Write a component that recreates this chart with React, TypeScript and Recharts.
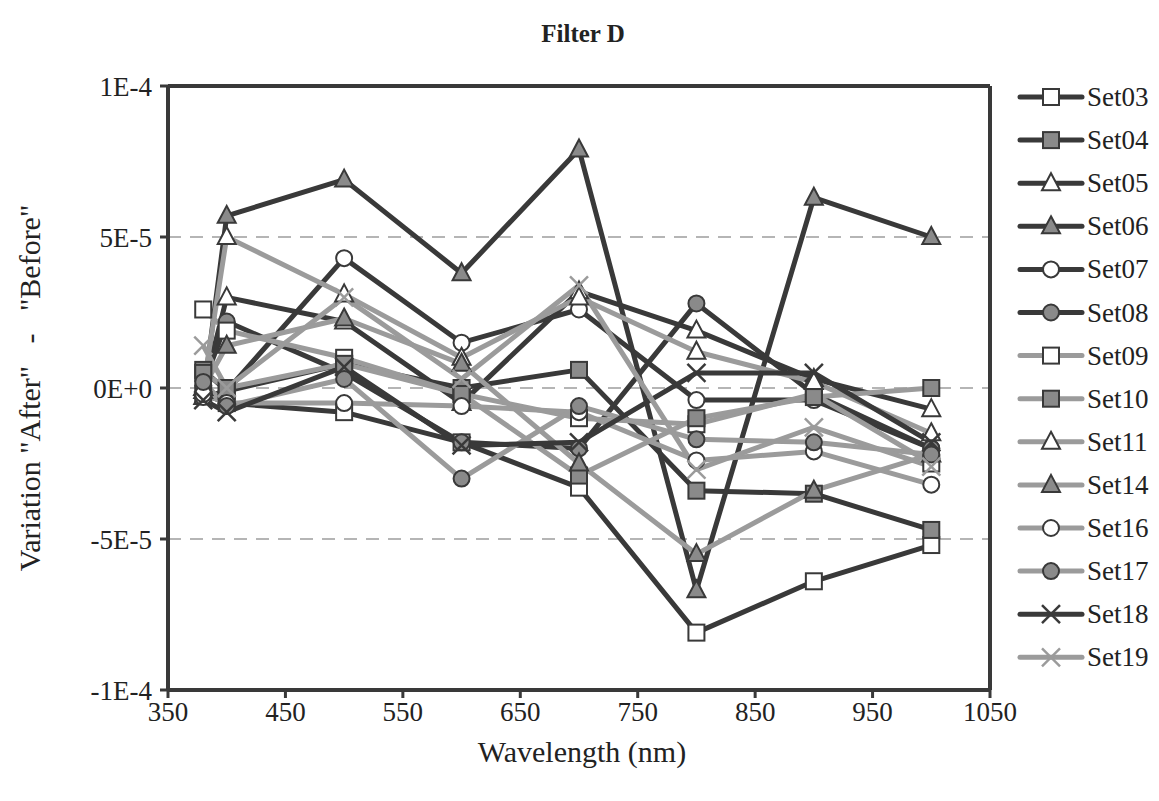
import { LineChart, Line, XAxis, YAxis, ReferenceLine, Label } from "recharts";

// wavelengths (nm) and values in units of 1E-6
const wavelengths = [380, 400, 500, 600, 700, 800, 900, 1000];

const set03 = [-2, -5, -8, -18, -33, -81, -64, -52];
const set04 = [6, -1, 8, 0, 6, -34, -35, -47];
const set05 = [-1, 30, 22, -5, 32, 19, 3, -7];
const set06 = [-3, 57, 69, 38, 79, -67, 63, 50];
const set07 = [-3, -1, 43, 15, 26, -4, -4, -20];
const set08 = [1, 22, 5, -18, -20, 28, -2, -20];
const set09 = [26, 19, 10, -2, -10, -12, -2, -25];
const set10 = [5, 0, 8, -2, -29, -10, -3, 0];
const set11 = [0, 50, 31, 10, 30, 12, 2, -15];
const set14 = [0, 14, 23, 8, -25, -55, -34, -22];
const set16 = [-2, -5, -5, -6, -8, -24, -21, -32];
const set17 = [2, -6, 3, -30, -6, -17, -18, -22];
const set18 = [-4, -8, 7, -19, -18, 5, 5, -18];
const set19 = [14, 0, 30, 3, 34, -27, -13, -26];

const xTicks = [350, 450, 550, 650, 750, 850, 950, 1050];
const yTicks = [-100, -50, 0, 50, 100];
const yTickLabels = ["-1E-4", "-5E-5", "0E+0", "5E-5", "1E-4"];
const gridValues = [-50, 0, 50];

const DARK = "#393939";
const GRAY = "#9b9b9b";
const FILL = "#8a8a8a";
const FONT = "'Liberation Serif', 'Times New Roman', serif";

type Shape = "square" | "triangle" | "circle" | "x";

const series: { name: string; values: number[]; dark: boolean; shape: Shape; filled: boolean }[] = [
  { name: "Set03", values: set03, dark: true, shape: "square", filled: false },
  { name: "Set04", values: set04, dark: true, shape: "square", filled: true },
  { name: "Set05", values: set05, dark: true, shape: "triangle", filled: false },
  { name: "Set06", values: set06, dark: true, shape: "triangle", filled: true },
  { name: "Set07", values: set07, dark: true, shape: "circle", filled: false },
  { name: "Set08", values: set08, dark: true, shape: "circle", filled: true },
  { name: "Set09", values: set09, dark: false, shape: "square", filled: false },
  { name: "Set10", values: set10, dark: false, shape: "square", filled: true },
  { name: "Set11", values: set11, dark: false, shape: "triangle", filled: false },
  { name: "Set14", values: set14, dark: false, shape: "triangle", filled: true },
  { name: "Set16", values: set16, dark: false, shape: "circle", filled: false },
  { name: "Set17", values: set17, dark: false, shape: "circle", filled: true },
  { name: "Set18", values: set18, dark: true, shape: "x", filled: false },
  { name: "Set19", values: set19, dark: false, shape: "x", filled: false },
];

const data = wavelengths.map((wl, i) => {
  const row: Record<string, number> = { wl };
  series.forEach((s) => {
    row[s.name] = s.values[i];
  });
  return row;
});

const Marker = ({ cx, cy, shape, filled, dark }: { cx: number; cy: number; shape: Shape; filled: boolean; dark: boolean }) => {
  const fill = filled ? FILL : "#ffffff";
  const sw = 2;
  if (shape === "square") {
    return <rect x={cx - 8} y={cy - 8} width={16} height={16} fill={fill} stroke={DARK} strokeWidth={sw} />;
  }
  if (shape === "triangle") {
    return (
      <polygon
        points={`${cx},${cy - 10} ${cx + 9},${cy + 7} ${cx - 9},${cy + 7}`}
        fill={fill}
        stroke={DARK}
        strokeWidth={sw}
      />
    );
  }
  if (shape === "circle") {
    return <circle cx={cx} cy={cy} r={8} fill={fill} stroke={DARK} strokeWidth={sw} />;
  }
  const c = dark ? DARK : GRAY;
  return (
    <g stroke={c} strokeWidth={2.5}>
      <line x1={cx - 9} y1={cy - 9} x2={cx + 9} y2={cy + 9} />
      <line x1={cx - 9} y1={cy + 9} x2={cx + 9} y2={cy - 9} />
    </g>
  );
};

const LegendBox = () => (
  <svg width={151} height={620} style={{ position: "absolute", left: 1008, top: 70 }}>
    {series.map((s, i) => {
      const y = 19 + i * 43.1;
      return (
        <g key={s.name}>
          <line x1={4} y1={y} x2={66} y2={y} stroke={s.dark ? DARK : GRAY} strokeWidth={5} strokeLinecap="round" />
          <Marker cx={35} cy={y} shape={s.shape} filled={s.filled} dark={s.dark} />
          <text x={71} y={y + 9} fontSize={27} fontFamily={FONT} fill="#222">
            {s.name}
          </text>
        </g>
      );
    })}
  </svg>
);

export default function App() {
  return (
    <div style={{ position: "relative", width: 1151, height: 785, fontFamily: FONT }}>
      <div
        style={{
          position: "absolute",
          top: 12,
          left: 0,
          width: 1150,
          textAlign: "center",
          fontSize: 25,
          fontWeight: "bold",
          color: "#222",
        }}
      >
        Filter D
      </div>
      <LineChart width={1143} height={785} data={data} margin={{ top: 78, right: 161, left: 0, bottom: 43 }}>
        {gridValues.map((v) => (
          <ReferenceLine key={v} y={v} stroke="#b5b5b5" strokeWidth={2} strokeDasharray="13 9" />
        ))}
        <ReferenceLine y={100} stroke={DARK} strokeWidth={4} />
        <ReferenceLine x={1050} stroke={DARK} strokeWidth={4} />
        <XAxis
          dataKey="wl"
          type="number"
          domain={[350, 1050]}
          ticks={xTicks}
          height={60}
          tickSize={8}
          tickMargin={4}
          axisLine={{ stroke: DARK, strokeWidth: 4 }}
          tickLine={{ stroke: DARK, strokeWidth: 3 }}
          tick={{ fontSize: 27, fill: "#222", fontFamily: FONT }}
          interval={0}
        >
          <Label
            content={() => (
              <text x={574} y={754} textAnchor="middle" fontSize={30} fontFamily={FONT} fill="#222">
                Wavelength (nm)
              </text>
            )}
          />
        </XAxis>
        <YAxis
          type="number"
          domain={[-100, 100]}
          ticks={yTicks}
          width={160}
          tickSize={8}
          tickMargin={8}
          tickFormatter={(v: number) => yTickLabels[yTicks.indexOf(v)]}
          axisLine={{ stroke: DARK, strokeWidth: 4 }}
          tickLine={{ stroke: DARK, strokeWidth: 3 }}
          tick={{ fontSize: 27, fill: "#222", fontFamily: FONT }}
          interval={0}
        >
          <Label
            content={() => (
              <text
                x={21}
                y={380}
                transform="rotate(-90, 21, 380)"
                textAnchor="middle"
                dominantBaseline="central"
                fontSize={30}
                fontFamily={FONT}
                fill="#222"
                style={{ whiteSpace: "pre" }}
              >
                {'Variation "After"   -   "Before"'}
              </text>
            )}
          />
        </YAxis>
        {series.map((s) => (
          <Line
            key={s.name}
            dataKey={s.name}
            type="linear"
            stroke={s.dark ? DARK : GRAY}
            strokeWidth={5}
            strokeLinejoin="round"
            isAnimationActive={false}
            dot={(p: any) => (
              <g key={`${s.name}-${p.index}`}>
                <Marker cx={p.cx} cy={p.cy} shape={s.shape} filled={s.filled} dark={s.dark} />
              </g>
            )}
            activeDot={false}
          />
        ))}
      </LineChart>
      <LegendBox />
    </div>
  );
}
